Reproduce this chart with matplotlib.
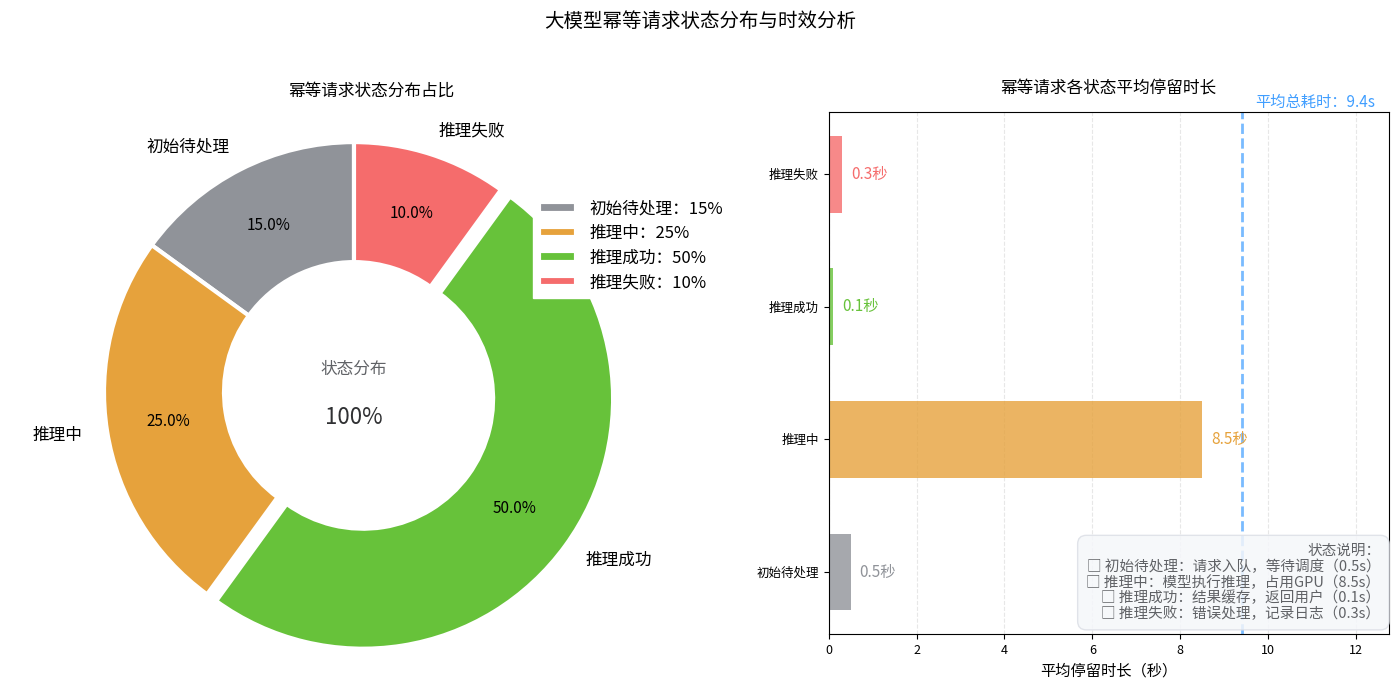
import matplotlib
matplotlib.use("Agg")
import matplotlib.pyplot as plt

plt.rcParams['font.family'] = ['Noto Sans CJK SC', 'DejaVu Sans']
plt.rcParams['axes.unicode_minus'] = False

# data
states = ['初始待处理', '推理中', '推理成功', '推理失败']
shares = [15, 25, 50, 10]
durations = [0.5, 8.5, 0.1, 0.3]
notes = ['请求入队，等待调度', '模型执行推理，占用GPU', '结果缓存，返回用户', '错误处理，记录日志']
colors = ['#909399', '#E6A23C', '#67C23A', '#F56C6C']
explode = [0, 0, 0.045, 0]

fig = plt.figure(figsize=(14, 7), dpi=100)
fig.suptitle('大模型幂等请求状态分布与时效分析', fontsize=14, y=0.985)

# ---- left: donut ----
ax1 = fig.add_axes([0.0, 0.057, 0.53, 0.8])
wedges, texts, autotexts = ax1.pie(
    shares, labels=states, colors=colors, explode=explode,
    autopct='%1.1f%%', startangle=90, pctdistance=0.75, labeldistance=1.1,
    wedgeprops=dict(width=0.48, edgecolor='white', linewidth=3),
    textprops=dict(fontsize=12))
for t in autotexts:
    t.set_fontsize(11)
ax1.set_aspect('equal')
ax1.set_xlim(-1.412, 1.548)
ax1.set_ylim(-1.072, 1.168)
ax1.text(0, 0.09, '状态分布', ha='center', va='center', fontsize=12, color='#606266')
ax1.text(0, -0.1, '100%', ha='center', va='center', fontsize=16, color='#303133')
ax1.set_title('幂等请求状态分布占比', fontsize=12, pad=3)
leg_labels = [f'{s}：{v}%' for s, v in zip(states, shares)]
ax1.legend(wedges, leg_labels, loc='upper right', bbox_to_anchor=(0.527, 0.735),
           bbox_transform=fig.transFigure, fontsize=12, frameon=True,
           framealpha=1, edgecolor='white', fancybox=False,
           handlelength=2.2, handleheight=0.6, labelspacing=0.45)

# ---- right: bars ----
ax2 = fig.add_axes([0.592, 0.094, 0.4, 0.746])
ypos = list(range(len(states)))
ax2.barh(ypos, durations, height=0.58, color=colors, alpha=0.8)
ax2.set_yticks(ypos)
ax2.set_yticklabels(states, fontsize=9)
ax2.tick_params(axis='x', labelsize=9)
ax2.set_xlim(0, max(durations) * 1.5)
ax2.grid(axis='x', linestyle='--', alpha=0.3)
ax2.set_axisbelow(True)
for y, d, c in zip(ypos, durations, colors):
    ax2.text(d + 0.2, y, f'{d}秒', va='center', ha='left', fontsize=11, color=c)
total = sum(durations)
ax2.axvline(total, color='#409EFF', linestyle='--', linewidth=2, alpha=0.7)
ax2.text(total + 0.3, 1.018, f'平均总耗时：{total:.1f}s', color='#409EFF',
         fontsize=11, ha='left', va='center', transform=ax2.get_xaxis_transform())
ax2.set_xlabel('平均停留时长（秒）', fontsize=11)
ax2.set_title('幂等请求各状态平均停留时长', fontsize=12, pad=14)
note_lines = ['状态说明：'] + [f'□ {s}：{n}（{d}s）' for s, n, d in zip(states, notes, durations)]
ax2.text(0.985, 0.025, '\n'.join(note_lines), transform=ax2.transAxes,
         ha='right', va='bottom', fontsize=10.5, color='#606266', multialignment='right',
         linespacing=1.1,
         bbox=dict(boxstyle='round,pad=0.6', facecolor='#F5F7FA', edgecolor='#DCDFE6', alpha=0.85))

fig.savefig('out.png', dpi=100)
